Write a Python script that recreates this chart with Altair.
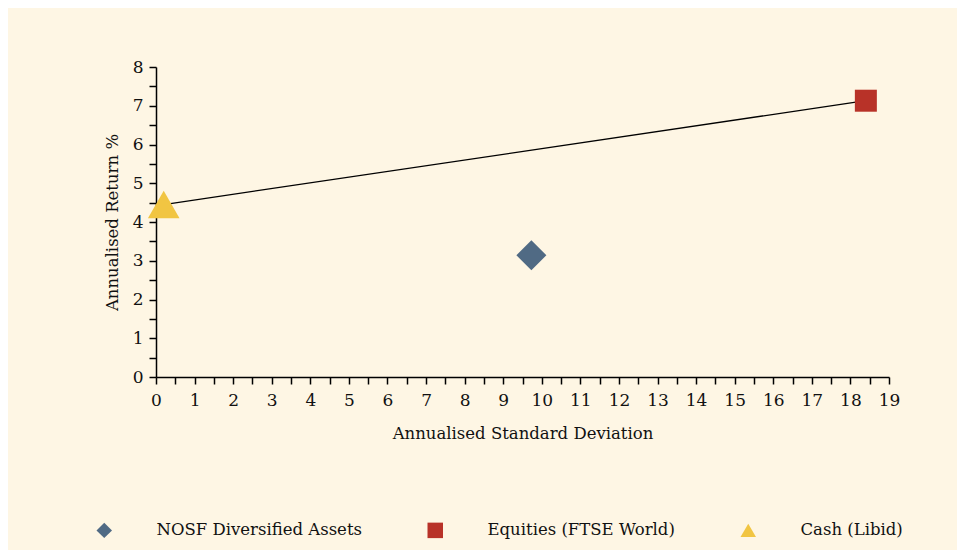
import altair as alt
import pandas as pd

names = ["NOSF Diversified Assets", "Equities (FTSE World)", "Cash (Libid)"]
std_dev = [9.73, 18.4, 0.2]
ret = [3.14, 7.13, 4.45]
shapes = ["diamond", "square", "triangle-up"]
colors = ["#506a84", "#b83228", "#f1c542"]
sizes = [900, 484, 1000]

line_names = ["Cash (Libid)", "Equities (FTSE World)"]

df = pd.DataFrame({"name": names, "sd": std_dev, "ret": ret, "sz": sizes})
line_df = df[df["name"].isin(line_names)].sort_values("sd")

x_ticks = [i / 2 for i in range(0, 39)]
y_ticks = [i / 2 for i in range(0, 17)]

FONT = "DejaVu Serif"

xenc = alt.X(
    "sd:Q",
    scale=alt.Scale(domain=[0, 19], nice=False, zero=True),
    axis=alt.Axis(
        title="Annualised Standard Deviation",
        values=x_ticks,
        labelExpr="datum.value % 1 ? '' : datum.value",
        labelOverlap=False,
        labelFlush=False,
        grid=False,
        tickSize=7,
        labelPadding=8,
        titlePadding=17,
    ),
)
yenc = alt.Y(
    "ret:Q",
    scale=alt.Scale(domain=[0, 8], nice=False, zero=True),
    axis=alt.Axis(
        title="Annualised Return %",
        values=y_ticks,
        labelExpr="datum.value % 1 ? '' : datum.value",
        labelOverlap=False,
        labelFlush=False,
        grid=False,
        tickSize=7,
        labelPadding=6,
        titlePadding=12,
    ),
)

line = alt.Chart(line_df).mark_line(color="black", strokeWidth=1.3).encode(
    x=xenc, y=yenc, order="sd:Q"
)

points = alt.Chart(df).mark_point(filled=True, opacity=1).encode(
    x=xenc,
    y=yenc,
    shape=alt.Shape(
        "name:N",
        scale=alt.Scale(domain=names, range=shapes),
        legend=alt.Legend(
            title=None,
            orient="none",
            legendX=-60,
            legendY=455,
            direction="horizontal",
            symbolSize=240,
            labelOffset=44,
            labelLimit=400,
            columnPadding=65,
            padding=0,
        ),
    ),
    color=alt.Color("name:N", scale=alt.Scale(domain=names, range=colors)),
    size=alt.Size("sz:Q", scale=None),
)

chart = (
    alt.layer(line, points)
    .properties(
        width=733,
        height=310,
        padding={"left": 148, "top": 59, "right": 68, "bottom": 173},
        autosize=alt.AutoSizeParams(type="none"),
        background="#fef6e4",
    )
    .configure_view(stroke=None)
    .configure_axis(
        domainColor="black",
        domainWidth=1.5,
        tickColor="black",
        tickWidth=1.5,
        labelFont=FONT,
        labelFontSize=17,
        labelColor="#111",
        titleFont=FONT,
        titleFontSize=16.5,
        titleFontWeight="normal",
        titleColor="#111",
    )
    .configure_legend(
        labelFont=FONT,
        labelFontSize=16.5,
        labelColor="#111",
        symbolStrokeWidth=0,
    )
)

chart.save("out.html", embed_options={"renderer": "svg", "actions": False})
